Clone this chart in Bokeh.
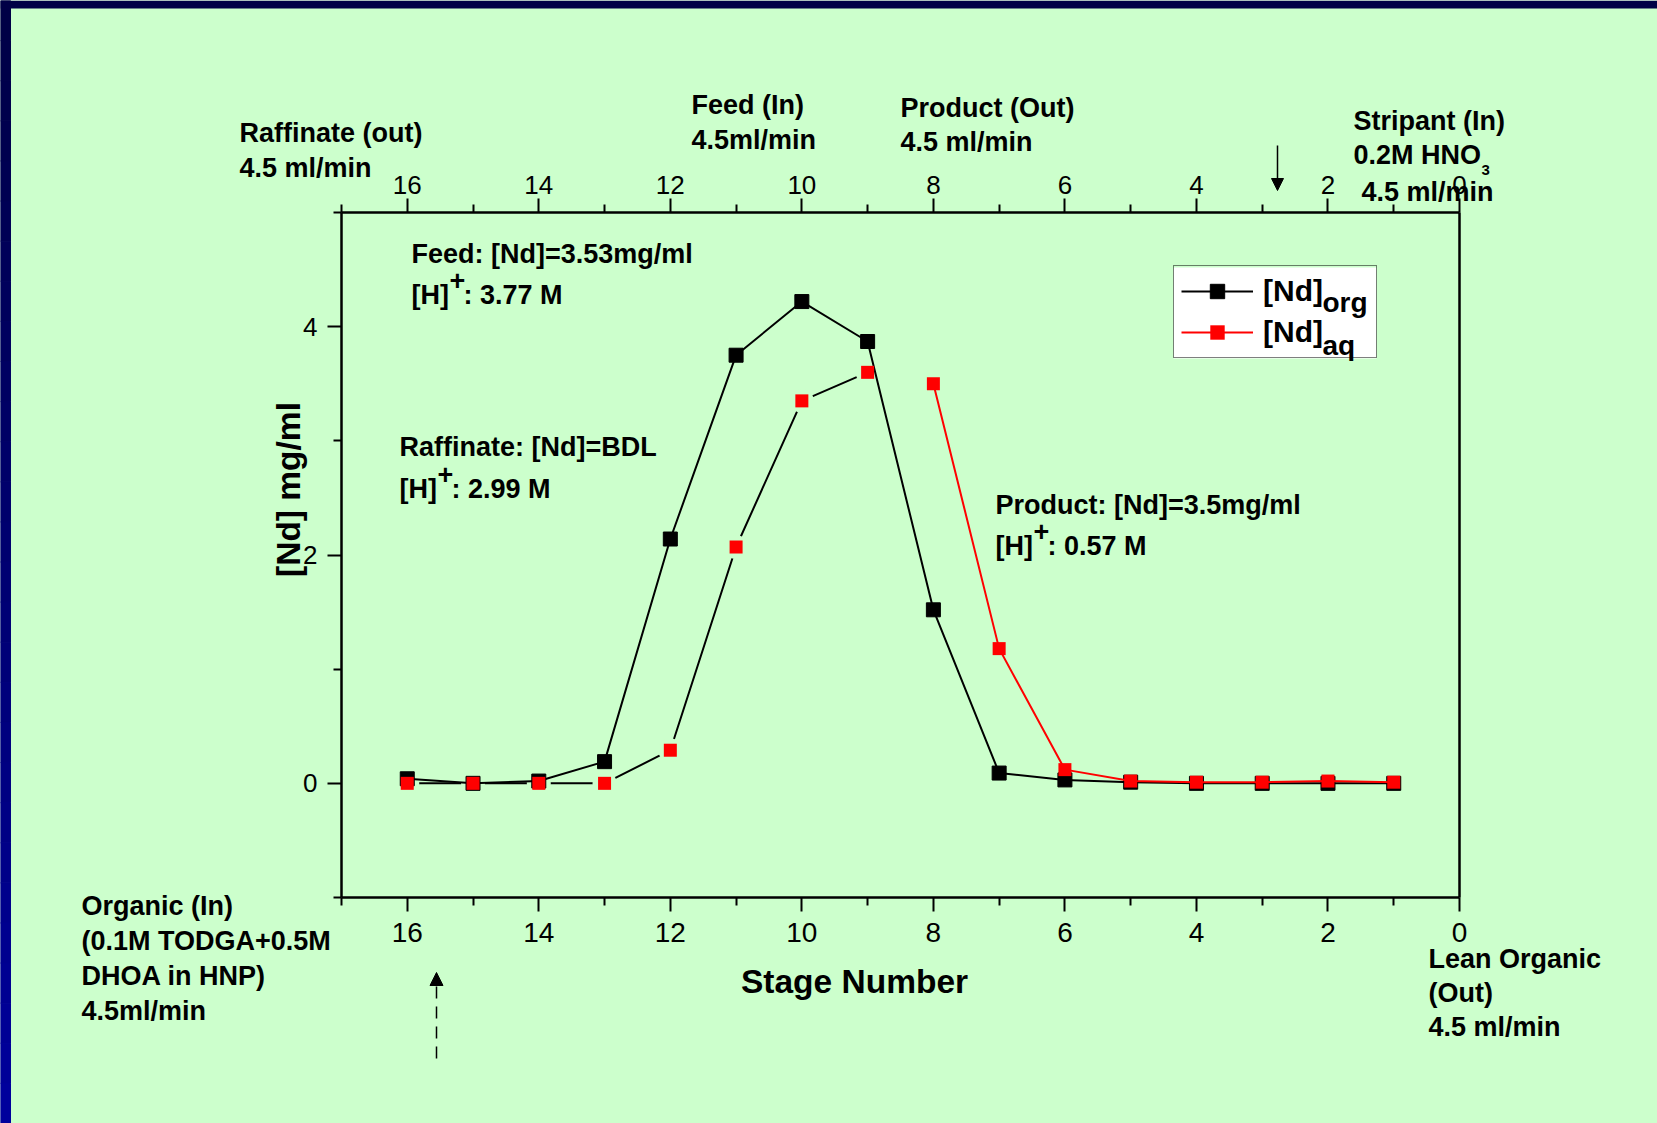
import math
from bokeh.plotting import figure
from bokeh.models import (Range1d, LinearAxis, FixedTicker, Label, Legend, LegendItem,
                          Arrow, NormalHead, ColumnDataSource, BoxAnnotation)
from bokeh.embed import file_html
from bokeh.resources import INLINE

# ---------------- data ----------------
stages = [16, 15, 14, 13, 12, 11, 10, 9, 8, 7, 6, 5, 4, 3, 2, 1]
nd_org = [0.04, 0.0, 0.02, 0.19, 2.14, 3.75, 4.22, 3.87, 1.52, 0.09, 0.03, 0.01, 0.0, 0.0, 0.0, 0.0]

stages_aq_extraction = [16, 15, 14, 13, 12, 11, 10, 9]
nd_aq_extraction = [0.0, 0.0, 0.0, 0.0, 0.29, 2.07, 3.35, 3.60]

stages_aq_stripping = [8, 7, 6, 5, 4, 3, 2, 1]
nd_aq_stripping = [3.50, 1.18, 0.12, 0.02, 0.01, 0.01, 0.02, 0.01]

x_major_ticks = [16, 14, 12, 10, 8, 6, 4, 2, 0]
x_minor_ticks = [17, 15, 13, 11, 9, 7, 5, 3, 1]
y_major_ticks = [0, 2, 4]
y_minor_ticks = [-1, 1, 3, 5]
x_lo, x_hi = 0, 17
y_lo, y_hi = -1, 5

# ---------------- layout / style ----------------
W, H = 1657, 1123
BG = "#ccffcc"
FONT = "Liberation Sans"
BOX_L, BOX_R, BOX_T, BOX_B = 341, 1459, 212, 897   # page pixels of the axes box
TXT = 27          # px, bold annotation texts
SHIFT = 0.36      # baseline correction (fraction of font size)

# the plotting frame covers the whole canvas; axes are pinned to the box edges
sx = (BOX_R - BOX_L) / (x_hi - x_lo)
sy = (BOX_B - BOX_T) / (y_hi - y_lo)
x_range = Range1d(x_hi + BOX_L / sx, x_lo - (W - BOX_R) / sx)
y_range = Range1d(y_lo - (H - BOX_B) / sy, y_hi + BOX_T / sy)

p = figure(width=W, height=H, x_range=x_range, y_range=y_range,
           output_backend="svg", toolbar_location=None, title=None,
           x_axis_location=None, y_axis_location=None, min_border=0,
           background_fill_color=BG, border_fill_color=BG, outline_line_color=None)
p.grid.visible = False
p.extra_x_ranges = {"page": Range1d(0, W)}
p.extra_y_ranges = {"page": Range1d(H, 0)}

# slide frame (top band + left gradient band)
p.quad(left=[0], right=[W], top=[0], bottom=[8], fill_color="#000046", line_color=None,
       x_range_name="page", y_range_name="page")
n_steps = 28
band_tops = [H * i / n_steps for i in range(n_steps)]
band_bottoms = [H * (i + 1) / n_steps for i in range(n_steps)]
band_cols = ["#0000%02x" % int(0x46 + (0x9c - 0x46) * i / (n_steps - 1)) for i in range(n_steps)]
p.quad(left=0, right=10, top=band_tops, bottom=band_bottoms, fill_color=band_cols,
       line_color=band_cols, x_range_name="page", y_range_name="page")


def style_axis(ax, size, standoff):
    ax.axis_line_width = 2.5
    ax.axis_line_color = "black"
    ax.major_tick_line_width = 2
    ax.minor_tick_line_width = 2
    ax.major_tick_out = 14
    ax.major_tick_in = 0
    ax.minor_tick_out = 8
    ax.minor_tick_in = 0
    ax.major_label_text_font = FONT
    ax.major_label_text_font_size = size
    ax.major_label_text_color = "black"
    ax.major_label_standoff = standoff


xb = LinearAxis(ticker=FixedTicker(ticks=x_major_ticks, minor_ticks=x_minor_ticks),
                fixed_location=y_lo, bounds=(x_lo, x_hi))
style_axis(xb, "28px", 11)
p.add_layout(xb, "below")
xt = LinearAxis(ticker=FixedTicker(ticks=x_major_ticks, minor_ticks=x_minor_ticks),
                fixed_location=y_hi, bounds=(x_lo, x_hi))
style_axis(xt, "26px", 5)
p.add_layout(xt, "above")
yl = LinearAxis(ticker=FixedTicker(ticks=y_major_ticks, minor_ticks=y_minor_ticks),
                fixed_location=x_hi, bounds=(y_lo, y_hi))
style_axis(yl, "26px", 10)
p.add_layout(yl, "left")
yr = LinearAxis(ticker=FixedTicker(ticks=[]), fixed_location=x_lo, bounds=(y_lo, y_hi),
                major_label_text_font_size="0px")
style_axis(yr, "0px", 0)
yr.major_tick_out = 0
yr.minor_tick_out = 0
p.add_layout(yr, "right")

# white legend box underneath the (transparent) legend so subscripts can sit above it
p.add_layout(BoxAnnotation(left=1173, right=1376, top=H - 267, bottom=H - 358,
                           left_units="screen", right_units="screen",
                           top_units="screen", bottom_units="screen",
                           fill_color="white", fill_alpha=1.0, line_color=None,
                           level="underlay"))

src_org = ColumnDataSource(dict(stage=stages, nd=nd_org))
src_aqx = ColumnDataSource(dict(stage=stages_aq_extraction, nd=nd_aq_extraction))
src_aqs = ColumnDataSource(dict(stage=stages_aq_stripping, nd=nd_aq_stripping))

p.line("stage", "nd", source=src_aqx, line_color="black", line_width=2)
p.scatter("stage", "nd", source=src_aqx, marker="circle", size=24, fill_color=BG, line_color=None)
r_org_line = p.line("stage", "nd", source=src_org, line_color="black", line_width=2)
r_org_pts = p.scatter("stage", "nd", source=src_org, marker="square", size=14,
                      fill_color="black", line_color="black")
r_aqs_line = p.line("stage", "nd", source=src_aqs, line_color="red", line_width=2)
p.scatter("stage", "nd", source=src_aqx, marker="square", size=13, fill_color="red", line_color=None)
r_aqs_pts = p.scatter("stage", "nd", source=src_aqs, marker="square", size=13,
                      fill_color="red", line_color=None)

legend = Legend(items=[LegendItem(label="[Nd]", renderers=[r_org_line, r_org_pts]),
                       LegendItem(label="[Nd]", renderers=[r_aqs_line, r_aqs_pts])],
                location=(1173, H - 358), orientation="vertical",
                padding=7, spacing=5, glyph_width=72, glyph_height=36,
                label_height=36, label_width=106, label_standoff=10,
                label_text_font=FONT, label_text_font_size="30px", label_text_font_style="bold",
                label_text_color="black",
                border_line_color="black", border_line_width=1.5,
                background_fill_alpha=0.0, margin=0)
p.add_layout(legend, "center")


def add_text(txt, X, Y, size=TXT, angle=0.0, align="left"):
    if angle == 0.0:
        x, y = X, H - Y + SHIFT * size
    else:
        x, y = X - SHIFT * size, H - Y
    p.add_layout(Label(x=x, y=y, x_units="screen", y_units="screen",
                       text=txt, text_font=FONT, text_font_size=f"{size}px",
                       text_font_style="bold", text_color="black",
                       text_baseline="alphabetic", text_align=align, angle=angle))


# legend subscripts
add_text("org", 1322, 312, size=28)
add_text("aq", 1322, 355, size=28)


def h_line(X, Y, rest):
    add_text("[H]", X, Y)
    add_text("+", X + 38, Y - 14.5)
    add_text(rest, X + 52, Y)


add_text("Feed: [Nd]=3.53mg/ml", 411, 263)
h_line(411, 304, ": 3.77 M")
add_text("Raffinate: [Nd]=BDL", 399, 456)
h_line(399, 498, ": 2.99 M")
add_text("Product: [Nd]=3.5mg/ml", 995, 514)
h_line(995, 555, ": 0.57 M")

# stream labels around the box
add_text("Raffinate (out)", 239, 142)
add_text("4.5 ml/min", 239, 177)
add_text("Feed (In)", 691, 114)
add_text("4.5ml/min", 691, 149)
add_text("Product (Out)", 900, 117)
add_text("4.5 ml/min", 900, 151)
add_text("Stripant (In)", 1353, 130)
add_text("0.2M HNO", 1353, 164)
add_text("3", 1481, 175, size=15)
add_text("4.5 ml/min", 1361, 201)

add_text("Organic (In)", 81, 915)
add_text("(0.1M TODGA+0.5M", 81, 950)
add_text("DHOA  in HNP)", 81, 985)
add_text("4.5ml/min", 81, 1020)

add_text("Lean Organic", 1428, 968)
add_text("(Out)", 1428, 1002)
add_text("4.5 ml/min", 1428, 1036)

# axis titles
add_text("Stage Number", 854, 993, size=33.5, align="center")
add_text("[Nd] mg/ml", 300, 489, size=33.5, align="center", angle=math.pi / 2)

# arrows
p.add_layout(Arrow(x_start=1277, y_start=H - 145, x_end=1277, y_end=H - 190,
                   start_units="screen", end_units="screen", line_color="black", line_width=1.5,
                   end=NormalHead(size=12, fill_color="black", line_color="black", line_width=1)))
p.add_layout(Arrow(x_start=436, y_start=H - 1058, x_end=436, y_end=H - 972,
                   start_units="screen", end_units="screen", line_color="black", line_width=1.5,
                   line_dash="12 8",
                   end=NormalHead(size=13, fill_color="black", line_color="black", line_width=1)))

open("out.html", "w").write(file_html(p, INLINE))
